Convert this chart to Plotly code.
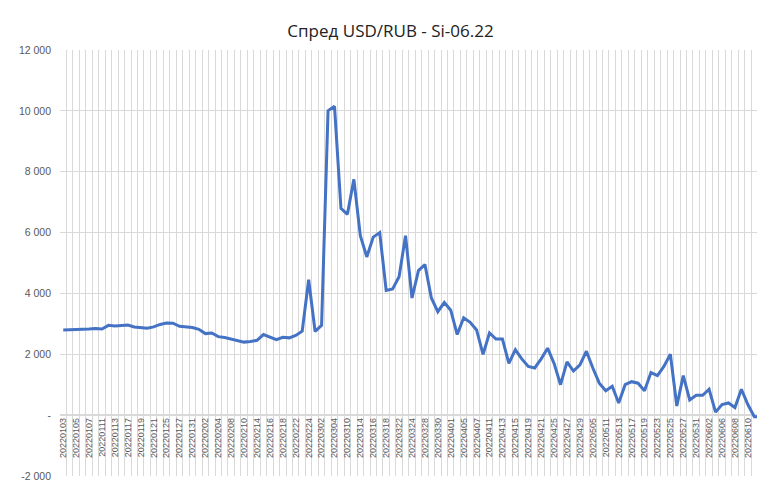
import plotly.graph_objects as go

# every other trading day is labelled on the axis
tick_labels = [
    '20220103', '20220105', '20220107', '20220111', '20220113', '20220117', '20220119',
    '20220121', '20220125', '20220127', '20220131', '20220202', '20220204', '20220208',
    '20220210', '20220214', '20220216', '20220218', '20220222', '20220224', '20220302',
    '20220304', '20220310', '20220314', '20220316', '20220318', '20220322', '20220324',
    '20220328', '20220330', '20220401', '20220405', '20220407', '20220411', '20220413',
    '20220415', '20220419', '20220421', '20220425', '20220427', '20220429', '20220505',
    '20220511', '20220513', '20220517', '20220519', '20220523', '20220525', '20220527',
    '20220531', '20220602', '20220606', '20220608', '20220610', '20220615',
]

spread = [
    2800, 2800, 2800, 2820, 2830, 2850, 2830, 2950, 2930, 2950, 2960, 2900, 2870,
    2860, 2900, 2980, 3030, 3020, 2920, 2900, 2880, 2820, 2680, 2700, 2580, 2550,
    2500, 2430, 2400, 2420, 2460, 2650, 2560, 2480, 2560, 2540, 2620, 2760,
    4450, 2750, 2950, 10000, 10150, 6800, 6600, 7750, 5900, 5200,
    5850, 6000, 4100, 4150, 4550, 5900, 3850, 4750, 4950, 3850,
    3400, 3700, 3450, 2650, 3200, 3050, 2800, 2000, 2700, 2500,
    2500, 1700, 2150, 1850, 1600, 1550, 1850, 2200, 1700, 1000,
    1750, 1450, 1650, 2100, 1550, 1050, 800, 950, 400, 1000,
    1100, 1050, 800, 1400, 1300, 1600, 2000, 300, 1300, 500,
    650, 650, 850, 100, 350, 400, 250, 850, 350, -50, -50,
]

y_ticks = [-2000, 0, 2000, 4000, 6000, 8000, 10000, 12000]
y_labels = ['-2 000', '-', '2 000', '4 000', '6 000', '8 000', '10 000', '12 000']

x = list(range(len(spread)))

fig = go.Figure(go.Scatter(x=x, y=spread, mode='lines',
                           line=dict(color='#4472C4', width=3)))

fig.update_layout(
    title=dict(text='Спред USD/RUB - Si-06.22', x=0.5, y=0.965,
               font=dict(family='Open Sans', size=17, color='#222')),
    width=765, height=485,
    margin=dict(l=52, r=9, t=42, b=17, autoexpand=False),
    plot_bgcolor='white', paper_bgcolor='white',
    showlegend=False,
    font=dict(family='Liberation Sans', size=10, color='#595959'),
)
fig.update_xaxes(
    range=[-0.5, len(spread) - 0.5],
    tickvals=x[::2], ticktext=tick_labels, tickangle=-90,
    showgrid=False, zeroline=False, ticks='',
    anchor='free', position=2000 / 14000,
    tickfont=dict(size=9),
    minor=dict(tick0=-0.5, dtick=1, showgrid=True, gridcolor='#d9d9d9', gridwidth=1),
)
fig.update_yaxes(
    range=[-2000, 12000], tickvals=y_ticks, ticktext=y_labels,
    showgrid=True, gridcolor='#d9d9d9', zeroline=True, zerolinecolor='#d9d9d9',
    ticks='', ticklabelstandoff=8, tickfont=dict(size=10.5),
)

fig.write_html('out.html')
